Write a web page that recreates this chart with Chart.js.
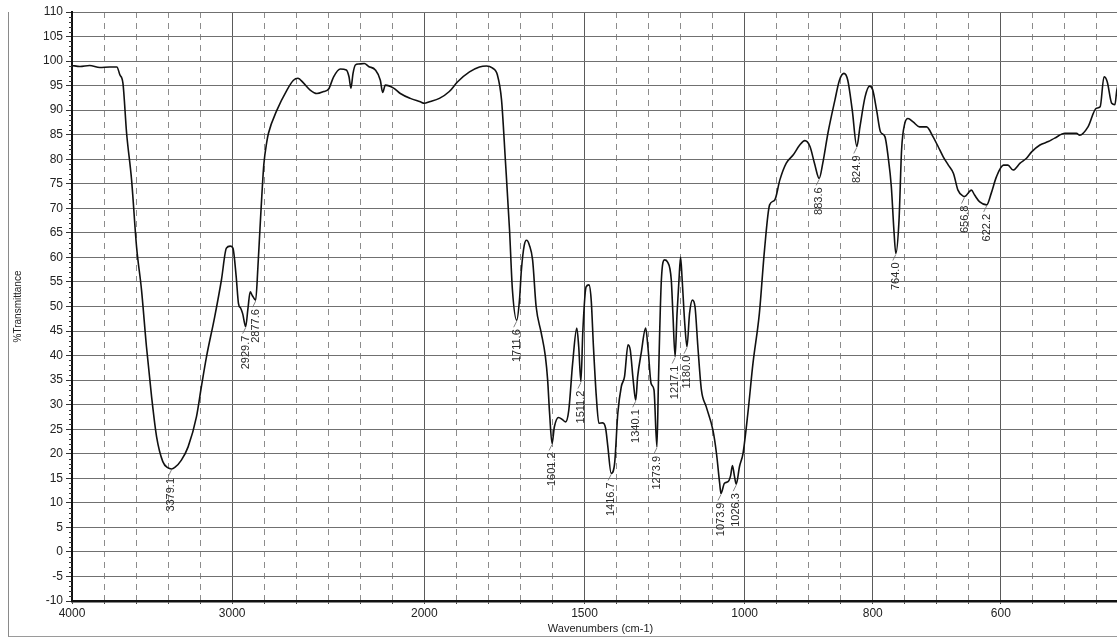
<!DOCTYPE html>
<html>
<head>
<meta charset="utf-8">
<title>FT-IR Spectrum</title>
<script src="https://cdn.jsdelivr.net/npm/chart.js@4.4.1/dist/chart.umd.min.js"></script>
<style>
    html, body { margin: 0; padding: 0; background: #fff; overflow: hidden; }
    #wrap { position: relative; width: 1140px; height: 639px; }
    #frame { position: absolute; left: 8px; top: 12px; width: 1140px; height: 625px;
             border-left: 1px solid #8a8a8a; border-bottom: 1px solid #9a9a9a; box-sizing: border-box; }
    canvas { position: absolute; left: 0; top: 0; }
</style>
</head>
<body>
<div id="wrap">
    <div id="frame"></div>
    <canvas id="irChart"></canvas>
</div>
<script>
// ==========================================================================================================
// -- Data --
// ==========================================================================================================

// Spectrum (left to right)
const wavenumbers = [
    4000, 3950, 3890, 3826, 3765, 3720, 3701, 3682, 3659, 3628, 3597, 3566, 3535, 3503, 3472, 3433, 3400,
    3379.1, 3358, 3317, 3275, 3223, 3192, 3160, 3109, 3067, 3036, 3012, 2996, 2979, 2967, 2955, 2945,
    2929.7, 2918, 2906, 2896, 2877.6, 2866, 2855, 2845, 2835, 2820, 2811, 2767, 2715, 2681, 2658, 2628,
    2594, 2559, 2524, 2498, 2472, 2437, 2406, 2392, 2382, 2371, 2359, 2342, 2312, 2290, 2255, 2229, 2217,
    2203, 2160, 2125, 2073, 2021, 2000, 1984, 1953, 1922, 1896, 1859, 1828, 1806, 1788, 1772, 1759, 1747,
    1734, 1725, 1711.6, 1703, 1697, 1688, 1681, 1672, 1662, 1651, 1635, 1622, 1615, 1609, 1601.2, 1594,
    1581, 1568, 1559, 1549, 1537, 1524, 1518, 1511.2, 1505, 1495, 1486, 1479, 1472, 1463, 1455, 1443,
    1434, 1427, 1416.7, 1406, 1396, 1385, 1375, 1364, 1357, 1348, 1340.1, 1334, 1323, 1309, 1302, 1292,
    1283, 1273.9, 1269, 1260, 1250, 1241, 1229, 1224, 1217.1, 1211, 1205, 1200, 1195, 1187, 1180.0, 1172,
    1163, 1155, 1146, 1135, 1120, 1099, 1088, 1078, 1073.9, 1063, 1052, 1044, 1038, 1032, 1026.3, 1016,
    1005, 995, 987, 977, 969, 961, 953, 945, 935, 924, 914, 906, 898, 891, 883.6, 878, 870, 859, 852, 845,
    839, 832, 824.9, 820, 812, 805, 800, 794, 788, 781, 776, 771, 767, 764.0, 759, 755, 750, 745, 737, 727,
    716, 706, 698, 690, 682, 674, 667, 659, 656.8, 646, 641, 633, 622.2, 615, 607, 596, 589, 581, 570, 560,
    552, 539, 526, 516, 500, 482, 477, 464, 451, 445, 439, 434, 427, 422, 419, 406, 400
];
const transmittance = [
    99.1, 98.9, 99.1, 98.7, 98.8, 98.8, 97.2, 95.5, 85.3, 75.8, 62.2, 53.4, 41.8, 31.6, 23.5, 18.4, 17.1,
    16.9, 17.2, 18.7, 21.4, 27.5, 33.7, 39.8, 47.9, 55.4, 61.9, 62.3, 61.9, 56.1, 50.6, 49.6, 48.5,
    45.9, 49.5, 53.0, 52.3, 51.3, 58.0, 66.0, 73.0, 79.0, 83.5, 85.3, 90.0, 94.1, 96.1, 96.5, 95.5,
    94.1, 93.4, 93.8, 94.3, 96.8, 98.4, 98.2, 96.8, 94.5, 97.5, 99.2, 99.4, 99.5, 98.9, 98.2, 96.1, 93.6,
    95.1, 94.5, 93.4, 92.4, 91.7, 91.4, 91.7, 92.4, 93.8, 95.8, 97.8, 98.8, 99.0, 98.6, 97.2, 92.1, 79.8,
    65.6, 53.4, 47.2, 51.3, 57.4, 62.5, 63.5, 62.5, 59.5, 50.0, 44.6, 39.8, 35.0, 28.3, 22.1, 25.5,
    27.4, 26.9, 26.5, 28.9, 38.4, 45.6, 41.8, 34.7, 45.2, 54.0, 54.4, 51.3, 41.8, 31.6, 26.2, 26.3,
    25.2, 21.4, 16.0, 18.0, 28.2, 33.7, 35.7, 42.2, 41.1, 35.0, 30.9, 35.7, 40.5, 45.6, 41.8, 34.3,
    33.0, 21.4, 35.0, 55.4, 59.5, 59.1, 55.4, 48.6, 39.8, 48.6, 55.4, 60.1, 55.4, 46.6, 41.8, 48.6,
    51.3, 50.0, 41.8, 33.0, 29.6, 24.8, 20.1, 14.0, 11.9, 14.0, 14.3, 15.5, 17.6, 15.5, 13.8, 17.4,
    20.1, 28.2, 38.4, 48.6, 61.5, 70.7, 71.7, 75.8, 79.2, 80.9, 82.9, 83.8, 82.6, 79.2, 76.1, 79.2, 85.3, 92.1, 96.1, 97.5,
    96.1, 90.0, 82.6, 86.6, 92.7, 94.9, 94.1, 90.0, 85.6, 84.6, 80.5, 74.4, 65.6, 60.8, 67.6, 81.9, 87.3, 88.3, 87.6, 86.6,
    86.6, 84.6, 82.6, 80.5, 78.8, 77.1, 73.7, 72.5, 72.4, 73.7, 72.7, 71.3, 70.7, 73.1, 76.4, 78.8, 78.8, 77.8, 79.2, 80.2,
    81.5, 82.9, 83.6, 84.3, 85.3, 85.3, 84.9, 86.6, 90.4, 90.7, 96.8, 95.8, 91.4, 91.1, 94.1, 98.2, 98.5
];

// Labelled peaks
const peakWavenumbers = [3379.1, 2929.7, 2877.6, 1711.6, 1601.2, 1511.2, 1416.7, 1340.1, 1273.9,
                         1217.1, 1180.0, 1073.9, 1026.3, 883.6, 824.9, 764.0, 656.8, 622.2];
const peakTransmittance = [16.9, 45.9, 51.3, 47.2, 22.1, 34.7, 16.0, 30.9, 21.4,
                           39.8, 41.8, 11.9, 13.8, 76.1, 82.6, 60.8, 72.4, 70.7];

// Axis tick labels
const xTickLabels = [4000, 3000, 2000, 1500, 1000, 800, 600];
const yMin = -10;
const yMax = 110;
const yStep = 5;

// ==========================================================================================================
// -- Wavenumber axis (printout uses a different scale per range) --
// ==========================================================================================================

// [from, to, grid divisions]
const AXIS_SEGMENTS = [[4000, 3000, 5], [3000, 2000, 6], [2000, 1000, 10], [1000, 400, 12]];
const AXIS_UNITS = AXIS_SEGMENTS.reduce((s, seg) => s + seg[2], 0);

class WavenumberScale extends Chart.LinearScale {
    static id = 'wavenumber';

    determineDataLimits() {
        this.min = 400;
        this.max = 4000;
    }

    buildTicks() {
        const ticks = [];
        AXIS_SEGMENTS.forEach(([a, b, n], i) => {
            for (let k = i === 0 ? 0 : 1; k <= n; k++) {
                ticks.push({ value: Math.round((a - (a - b) * k / n) * 1000) / 1000 });
            }
        });
        return ticks;
    }

    toUnits(v) {
        let u = 0;
        for (const [a, b, n] of AXIS_SEGMENTS) {
            if (v >= b) return u + n * (a - v) / (a - b);
            u += n;
        }
        const [a, b, n] = AXIS_SEGMENTS[AXIS_SEGMENTS.length - 1];
        return u - n + n * (a - v) / (a - b);
    }

    getPixelForValue(v) {
        return this.left + this.width * this.toUnits(v) / AXIS_UNITS;
    }

    getValueForPixel(p) {
        let u = (p - this.left) / this.width * AXIS_UNITS;
        for (const [a, b, n] of AXIS_SEGMENTS) {
            if (u <= n) return a - (a - b) * u / n;
            u -= n;
        }
        return 400;
    }
}
Chart.register(WavenumberScale);

// ==========================================================================================================
// -- Plugins --
// ==========================================================================================================

// Small minor ticks on the %T axis ------------------------------------------------------------------
const minorTicks = {
    id: 'minorTicks',
    afterDraw(chart) {
        const y = chart.scales.y;
        const ctx = chart.ctx;
        ctx.save();
        ctx.strokeStyle = '#333';
        ctx.lineWidth = 1;
        for (let v = yMin; v <= yMax; v++) {
            if (v % yStep === 0) continue;
            const p = Math.round(y.getPixelForValue(v)) + 0.5;
            ctx.beginPath();
            ctx.moveTo(y.right - 3, p);
            ctx.lineTo(y.right, p);
            ctx.stroke();
        }
        ctx.restore();
    }
};

// Peak annotations --------------------------------------------------------------------------------
const peakLabels = {
    id: 'peakLabels',
    afterDatasetsDraw(chart) {
        const { ctx, scales: { x, y } } = chart;
        ctx.save();
        ctx.font = '11px "Liberation Sans", Arial, sans-serif';
        ctx.fillStyle = '#2a2a2a';
        ctx.strokeStyle = '#666';
        ctx.lineWidth = 0.8;
        peakWavenumbers.forEach((wn, i) => {
            const px = x.getPixelForValue(wn);
            const py = y.getPixelForValue(peakTransmittance[i]);
            ctx.beginPath();
            ctx.moveTo(px, py + 1);
            ctx.lineTo(px - 3, py + 7);
            ctx.stroke();
            ctx.save();
            ctx.translate(px, py + 9);
            ctx.rotate(-Math.PI / 2);
            ctx.textAlign = 'right';
            ctx.textBaseline = 'middle';
            ctx.fillText(wn.toFixed(1), 0, 0);
            ctx.restore();
        });
        ctx.restore();
    }
};

// ==========================================================================================================
// -- Chart --
// ==========================================================================================================

const font = { family: '"Liberation Sans", Arial, sans-serif' };

new Chart(document.getElementById('irChart'), {
    type: 'line',
    data: {
        datasets: [{
            data: wavenumbers.map((wn, i) => ({ x: wn, y: transmittance[i] })),
            borderColor: '#111',
            borderWidth: 1.6,
            pointRadius: 0,
            cubicInterpolationMode: 'monotone',
            fill: false
        }]
    },
    options: {
        responsive: true,
        maintainAspectRatio: false,
        animation: false,
        events: [],
        layout: { padding: { left: 8, top: 12, right: 11, bottom: 2 } },
        plugins: { legend: { display: false }, tooltip: { enabled: false } },
        scales: {
            x: {
                type: 'wavenumber',
                position: 'bottom',
                afterFit: (scale) => { scale.height = 36; },
                ticks: {
                    autoSkip: false,
                    maxRotation: 0,
                    padding: 2,
                    color: '#222',
                    font: { ...font, size: 12 },
                    callback: (v) => xTickLabels.includes(v) ? String(v) : ''
                },
                grid: {
                    color: (c) => c.tick && xTickLabels.includes(c.tick.value) ? '#5a5a5a' : '#8c8c8c',
                    lineWidth: 1,
                    tickLength: 3,
                    tickColor: '#444'
                },
                border: {
                    color: '#111',
                    width: 2.5,
                    dash: (c) => c.tick && !xTickLabels.includes(c.tick.value) ? [6, 5] : []
                },
                title: {
                    display: true,
                    text: 'Wavenumbers (cm-1)',
                    color: '#222',
                    font: { ...font, size: 11 },
                    padding: { top: 0, bottom: 1 }
                }
            },
            y: {
                min: yMin,
                max: yMax,
                afterFit: (scale) => { scale.width = 64; },
                ticks: {
                    stepSize: yStep,
                    padding: 3,
                    color: '#222',
                    font: { ...font, size: 12 }
                },
                grid: {
                    color: '#707070',
                    lineWidth: 1,
                    tickLength: 6,
                    tickColor: '#333'
                },
                border: { color: '#111', width: 2 },
                title: {
                    display: true,
                    text: '%Transmittance',
                    color: '#222',
                    font: { ...font, size: 10 },
                    padding: { top: 4, bottom: 0 }
                }
            }
        }
    },
    plugins: [minorTicks, peakLabels]
});
</script>
</body>
</html>
